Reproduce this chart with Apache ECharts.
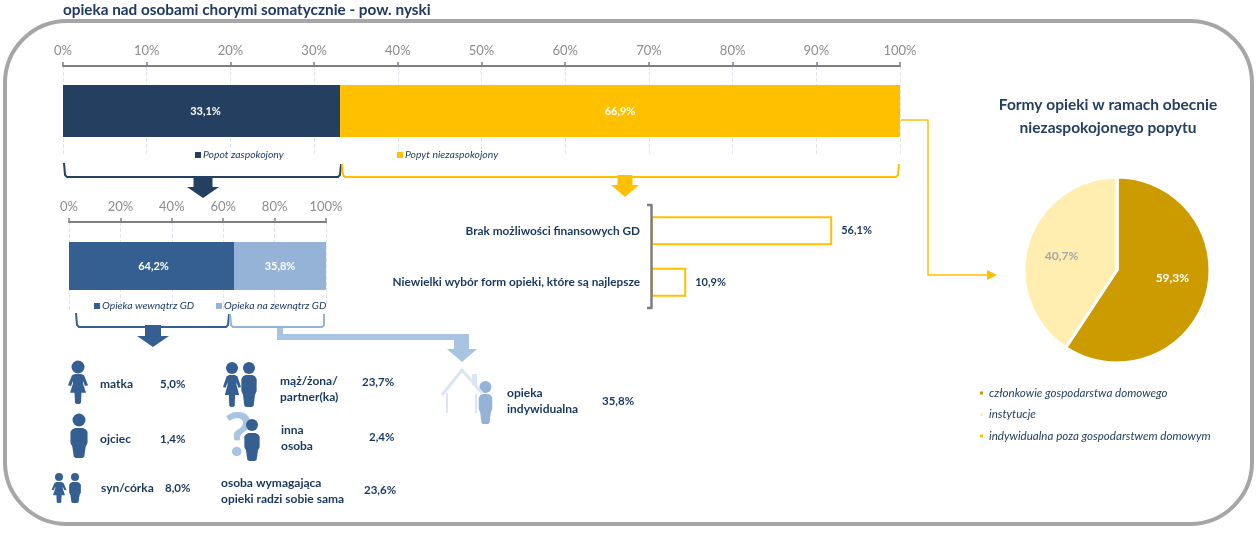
<!DOCTYPE html>
<html>
<head>
<meta charset="utf-8">
<title>opieka nad osobami chorymi somatycznie</title>
<script src="https://cdn.jsdelivr.net/npm/echarts@6/dist/echarts.min.js"></script>
<style>
  html, body { margin: 0; padding: 0; background: #fff; }
  #main { width: 1259px; height: 535px; }
</style>
</head>
<body>
<div id="main"></div>
<script>
// popyt
const demandNames = ["Popot zaspokojony", "Popyt niezaspokojony"];
const demandValues = [33.1, 66.9];
// opieka w ramach popytu zaspokojonego
const careNames = ["Opieka wewnątrz GD", "Opieka na zewnątrz GD"];
const careValues = [64.2, 35.8];
const demandTicks = 10;
const careTicks = 20;
// powody
const reasonNames = ["Brak możliwości finansowych GD", "Niewielki wybór form opieki, które są najlepsze"];
const reasonValues = [56.1, 10.9];
// formy opieki - kolowy
const formNames = ["członkowie gospodarstwa domowego", "instytucje", "indywidualna poza gospodarstwem domowym"];
const formValues = [59.3, 40.7, 0];
// kto opiekuje sie
const personNames = ["matka", "ojciec", "syn/córka", "mąż/żona/\npartner(ka)", "inna\nosoba", "osoba wymagająca\nopieki radzi sobie sama", "opieka\nindywidualna"];
const personValues = [5.0, 1.4, 8.0, 23.7, 2.4, 23.6, 35.8];

const NAVY = "#17375e", DARK = "#243f60", BLUE = "#365f91", LIGHT = "#95b3d7", YELLOW = "#ffc000", GREY = "#7f7f7f", PALE = "#dce6f2";
const FONT = "Lato, 'Open Sans', sans-serif";
const pct = v => v.toFixed(1).replace(".", ",") + "%";

// ksztalty ludzikow, pudelko 20x48
const MAN = [[1,6],[3,2],[6,0],[14,0],[17,2],[19,6],[19,24],[17,30],[15.5,46],[13.5,48],[6.5,48],[4.5,46],[3,30],[1,24]];
const WOMAN = [[7,0],[13,0],[16,2],[20,18],[17,19],[15,11],[15,15],[18,30],[13.5,30],[13,46],[11.5,48],[8.5,48],[7,46],[6.5,30],[2,30],[5,15],[5,11],[3,19],[0,18],[4,2]];

function person(shape, cx, headY, r, top, w, h, color) {
  return [
    { type: "circle", shape: { cx: cx, cy: headY, r: r }, style: { fill: color } },
    { type: "polygon", shape: { points: shape.map(p => [cx - w / 2 + p[0] * w / 20, top + p[1] * h / 48]) }, style: { fill: color } }
  ];
}
function line(points, color, width) {
  return { type: "polyline", z: 10, shape: { points: points }, style: { stroke: color, lineWidth: width, fill: null, lineJoin: "round" } };
}
function arrow(x, top, neck, tip, shaft, head, color) {
  return {
    type: "polygon",
    shape: { points: [[x - shaft, top], [x + shaft, top], [x + shaft, neck], [x + head, neck], [x, tip], [x - head, neck], [x - shaft, neck]] },
    style: { fill: color }
  };
}
function label(text, x, y, size) {
  return {
    type: "text", x: x, y: y,
    style: { text: text, fill: NAVY, font: "bold " + (size || 12) + "px " + FONT, lineHeight: 16.5, verticalAlign: "middle" }
  };
}

const decor = [
  { type: "rect", shape: { x: 5, y: 21, width: 1247, height: 503, r: 62 }, style: { fill: null, stroke: "#a6a6a6", lineWidth: 4 } },
  // klamry
  line([[64, 163], [65, 175], [67, 177], [338, 177], [340, 175], [341, 164]], DARK, 2),
  line([[342, 164], [343, 175], [345, 177], [896, 177], [898, 175], [899, 164]], YELLOW, 2),
  line([[76, 313], [77, 325], [79, 327], [226, 327], [228, 325], [229, 314]], BLUE, 2),
  line([[230, 314], [231, 325], [233, 327], [322, 327], [324, 325], [324, 314]], LIGHT, 2),
  // strzalki
  arrow(203, 177, 187, 198, 9.5, 16, DARK),
  arrow(625, 175, 185, 197, 7.5, 14, YELLOW),
  arrow(153, 325, 336, 347, 8, 16, BLUE),
  { type: "polygon", shape: { points: [[277, 327], [283, 327], [283, 334], [469, 334], [469, 349], [477, 349], [462, 362], [447, 349], [454, 349], [454, 340], [277, 340]] }, style: { fill: "#a9c3e3" } },
  // lacznik do kolowego
  line([[901, 120], [928, 120], [928, 275], [988, 275]], YELLOW, 1.5),
  { type: "polygon", shape: { points: [[987, 270], [997, 275], [987, 280]] }, style: { fill: YELLOW } },
  // klamra przy powodach
  line([[647, 205], [651.5, 205], [651.5, 308], [647, 308]], GREY, 2.5),
  // domek
  line([[442, 395], [462, 370], [482, 393]], PALE, 3),
  line([[447, 393], [447, 413]], PALE, 2),
  line([[476, 394], [476, 413]], PALE, 2),
  { type: "rect", shape: { x: 472, y: 374, width: 5, height: 11 }, style: { fill: PALE } },
  { type: "text", x: 224, y: 405, style: { text: "?", fill: "#a9c3e3", font: "bold 62px " + FONT } }
].concat(
  person(WOMAN, 78, 367, 6.5, 374, 20, 30, BLUE),
  person(MAN, 79, 420, 6.5, 428, 19, 30, BLUE),
  person(WOMAN, 59, 477, 4, 482, 15, 21, BLUE),
  person(MAN, 75, 477, 4, 482, 13, 21, BLUE),
  person(WOMAN, 232, 368, 6, 375, 18, 32, BLUE),
  person(MAN, 249, 368, 6, 375, 17, 32, BLUE),
  person(MAN, 252, 425, 6, 433, 17, 28, BLUE),
  person(MAN, 485.5, 387, 6, 394, 15, 30, LIGHT)
);

// pozycje napisow przy ikonach: [x opisu, y opisu, x wartosci, y wartosci]
const personSpots = [
  [100, 384, 160, 384], [100, 439, 160, 439], [101, 488, 165, 488],
  [280, 389, 362, 382], [281, 438, 369, 437], [221, 491, 364, 490], [507, 401, 602, 401]
];
personNames.forEach((name, i) => {
  const p = personSpots[i];
  decor.push(label(name, p[0], p[1], 12));
  decor.push(label(pct(personValues[i]), p[2], p[3], 11.5));
});

function topAxis(gridIndex, step) {
  return {
    gridIndex: gridIndex, type: "value", position: "top", min: 0, max: 100, interval: step,
    axisLabel: { formatter: "{value}%", color: "#8c8c8c", fontFamily: FONT, fontSize: 13, margin: 9 },
    axisLine: { show: true, onZero: false, lineStyle: { color: GREY, width: 2 } },
    axisTick: { show: true, length: 4, lineStyle: { color: GREY, width: 1.5 } },
    splitLine: { show: true, lineStyle: { color: "#dfe6f0", type: "dashed", width: 1 } }
  };
}
function stackSeries(name, value, axis, color, width, shift) {
  return {
    name: name, type: "bar", stack: "s" + axis, xAxisIndex: axis, yAxisIndex: axis, barWidth: width,
    data: [value], itemStyle: { color: color }, silent: true,
    label: { show: true, position: "inside", offset: [shift, 0], formatter: p => pct(p.value), color: "#fff", fontFamily: FONT, fontWeight: "bold", fontSize: 11 }
  };
}
function barLegend(name, left, top) {
  return {
    data: [name], left: left, top: top, icon: "rect", itemWidth: 6, itemHeight: 6, itemGap: 0, padding: 0,
    textStyle: { color: NAVY, fontFamily: FONT, fontStyle: "italic", fontSize: 10.4, padding: [0, 0, 0, -3] }
  };
}

const option = {
  animation: false,
  backgroundColor: "#fff",
  title: [
    { text: "opieka nad osobami chorymi somatycznie - pow. nyski", left: 63, top: 3, padding: 0,
      textStyle: { color: "#1f3864", fontFamily: FONT, fontWeight: "bold", fontSize: 15.3 } },
    { text: "Formy opieki w ramach obecnie\nniezaspokojonego popytu", left: 1108, top: 93, padding: 0, textAlign: "center",
      textStyle: { color: DARK, fontFamily: FONT, fontWeight: "bold", fontSize: 15.5, lineHeight: 23 } }
  ],
  grid: [
    { left: 63, top: 66, width: 837, height: 90 },
    { left: 69, top: 222, width: 257, height: 88 },
    { left: 651, top: 205, width: 323, height: 103 }
  ],
  xAxis: [
    topAxis(0, demandTicks),
    topAxis(1, careTicks),
    { gridIndex: 2, type: "value", min: 0, max: 100, show: false }
  ],
  yAxis: [
    { gridIndex: 0, type: "category", data: [""], show: false },
    { gridIndex: 1, type: "category", data: [""], show: false },
    { gridIndex: 2, type: "category", data: reasonNames, inverse: true,
      axisLine: { show: false }, axisTick: { show: false },
      axisLabel: { color: NAVY, fontFamily: FONT, fontWeight: "bold", fontSize: 11.8, margin: 11 } }
  ],
  legend: [
    barLegend(demandNames[0], 195, 150),
    barLegend(demandNames[1], 397, 150),
    barLegend(careNames[0], 94, 301),
    barLegend(careNames[1], 216, 301),
    { data: formNames, left: 978, top: 387, orient: "vertical", icon: "rect", itemWidth: 5, itemHeight: 5, itemGap: 9.5, padding: 0,
      textStyle: { color: DARK, fontFamily: FONT, fontStyle: "italic", fontSize: 11.6 } }
  ],
  series: [
    stackSeries(demandNames[0], demandValues[0], 0, DARK, 52, 4),
    stackSeries(demandNames[1], demandValues[1], 0, YELLOW, 52, 0),
    stackSeries(careNames[0], careValues[0], 1, BLUE, 48, 2),
    stackSeries(careNames[1], careValues[1], 1, LIGHT, 48, 0),
    {
      type: "bar", xAxisIndex: 2, yAxisIndex: 2, barWidth: 29, data: reasonValues, silent: true,
      itemStyle: { color: "#fff", borderColor: YELLOW, borderWidth: 2 },
      label: { show: true, position: "right", distance: 9, formatter: p => pct(p.value), color: NAVY, fontFamily: FONT, fontWeight: "bold", fontSize: 11 }
    },
    {
      type: "pie", center: [1117, 270], radius: 93, startAngle: 90, silent: true,
      data: formNames.map((name, i) => ({
        name: name, value: formValues[i],
        label: { offset: i === 0 ? [8, -6] : [-8, 0], color: i === 0 ? "#fff" : "#a6a6a6" }
      })),
      color: ["#cc9b00", "#ffeeb0", YELLOW],
      itemStyle: { borderColor: "#fff", borderWidth: 3 },
      label: { position: "inside", formatter: p => p.value ? pct(p.value) : "", fontFamily: FONT, fontWeight: "bold", fontSize: 12 },
      labelLine: { show: false }
    }
  ],
  graphic: decor
};

const myChart = echarts.init(document.getElementById("main"));
myChart.setOption(option);
</script>
</body>
</html>
